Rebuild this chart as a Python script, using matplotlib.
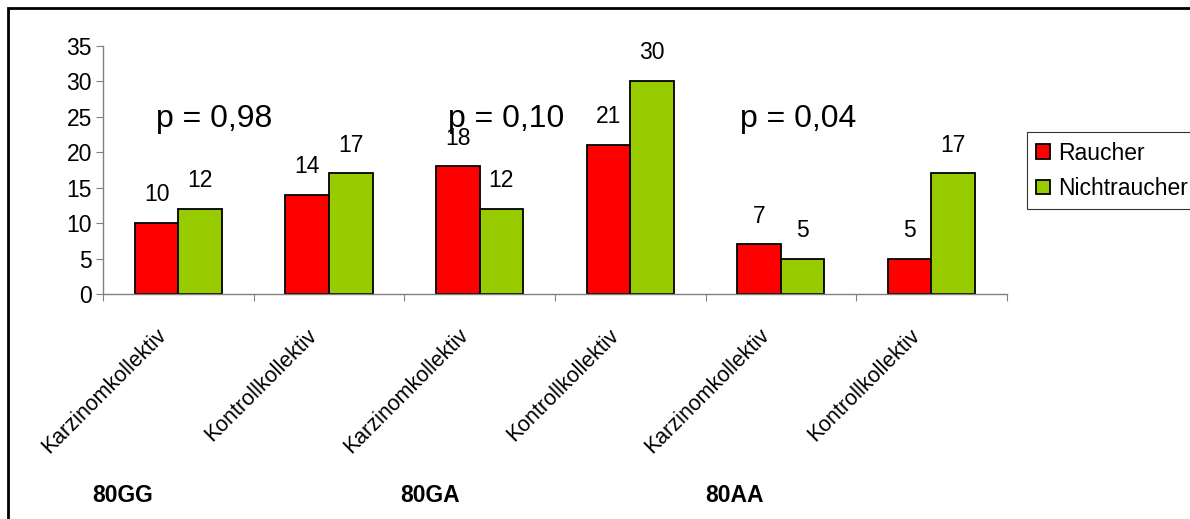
import matplotlib
matplotlib.use("Agg")
import matplotlib.pyplot as plt
from matplotlib.patches import Rectangle
from matplotlib.transforms import ScaledTranslation
import numpy as np

plt.rcParams['font.family'] = ['Liberation Sans', 'DejaVu Sans']

categories = ["Karzinomkollektiv", "Kontrollkollektiv", "Karzinomkollektiv",
              "Kontrollkollektiv", "Karzinomkollektiv", "Kontrollkollektiv"]
raucher = [10, 14, 18, 21, 7, 5]
nichtraucher = [12, 17, 12, 30, 5, 17]
genotypes = ["80GG", "80GA", "80AA"]
p_values = ["p = 0,98", "p = 0,10", "p = 0,04"]

red = "#FF0000"
green = "#99CC00"
axis_grey = "#808080"
fs = 16.5

fig = plt.figure(figsize=(11.9, 5.19), dpi=100)
ax = fig.add_axes([0.0866, 0.4335, 0.7594, 0.4785])

x = np.arange(len(categories))
w = 0.29
b1 = ax.bar(x - w / 2, raucher, w, color=red, edgecolor="black", linewidth=1.3, label="Raucher")
b2 = ax.bar(x + w / 2, nichtraucher, w, color=green, edgecolor="black", linewidth=1.3, label="Nichtraucher")

for bars, vals in ((b1, raucher), (b2, nichtraucher)):
    for rect, v in zip(bars, vals):
        ax.annotate(str(v), (rect.get_x() + rect.get_width() / 2, v),
                    xytext=(0, 12), textcoords="offset points",
                    ha="center", va="bottom", fontsize=fs)

ax.set_xlim(-0.5, len(categories) - 0.5)
ax.set_ylim(0, 35)
ax.set_yticks(np.arange(0, 36, 5))
ax.tick_params(axis="y", labelsize=fs, length=5, color=axis_grey, pad=3)

ax.set_xticks(np.arange(len(categories) + 1) - 0.5)
ax.set_xticklabels([])
ax.tick_params(axis="x", which="major", length=5, color=axis_grey, direction="out")
ax.set_xticks(x, minor=True)
ax.set_xticklabels(categories, minor=True, rotation=45, ha="right",
                   rotation_mode="anchor", fontsize=15.5)
ax.tick_params(axis="x", which="minor", length=0, pad=22)
shift = ScaledTranslation(-22 / 100, 0, fig.dpi_scale_trans)
for lbl in ax.get_xticklabels(minor=True):
    lbl.set_transform(lbl.get_transform() + shift)

for s in ("top", "right"):
    ax.spines[s].set_visible(False)
for s in ("left", "bottom"):
    ax.spines[s].set_color(axis_grey)
    ax.spines[s].set_linewidth(1.0)

# p-values above each genotype pair
for i, p in enumerate(p_values):
    ax.text(2 * i - 0.15 - 0.06 * i, 23.6, p, fontsize=23, ha="left", va="baseline")

# genotype labels under the axis
for gx, g in zip([0.0773, 0.336, 0.593], genotypes):
    fig.text(gx, 0.046, g, fontsize=fs, fontweight="bold", va="center")

leg = fig.legend(handles=[b1, b2], loc="upper left", bbox_to_anchor=(0.863, 0.745),
                 fontsize=fs, frameon=True, fancybox=False, handlelength=0.6,
                 handleheight=0.6, handletextpad=0.35, borderpad=0.4,
                 labelspacing=0.55, borderaxespad=0)
leg.get_frame().set_edgecolor("black")
leg.get_frame().set_linewidth(0.8)

# outer chart frame
fig.patches.append(Rectangle((8 / 1190, -0.1), 1.2, 1.1 - 8 / 519, transform=fig.transFigure,
                             fill=False, edgecolor="black", linewidth=2))

fig.savefig("out.png", dpi=100)
